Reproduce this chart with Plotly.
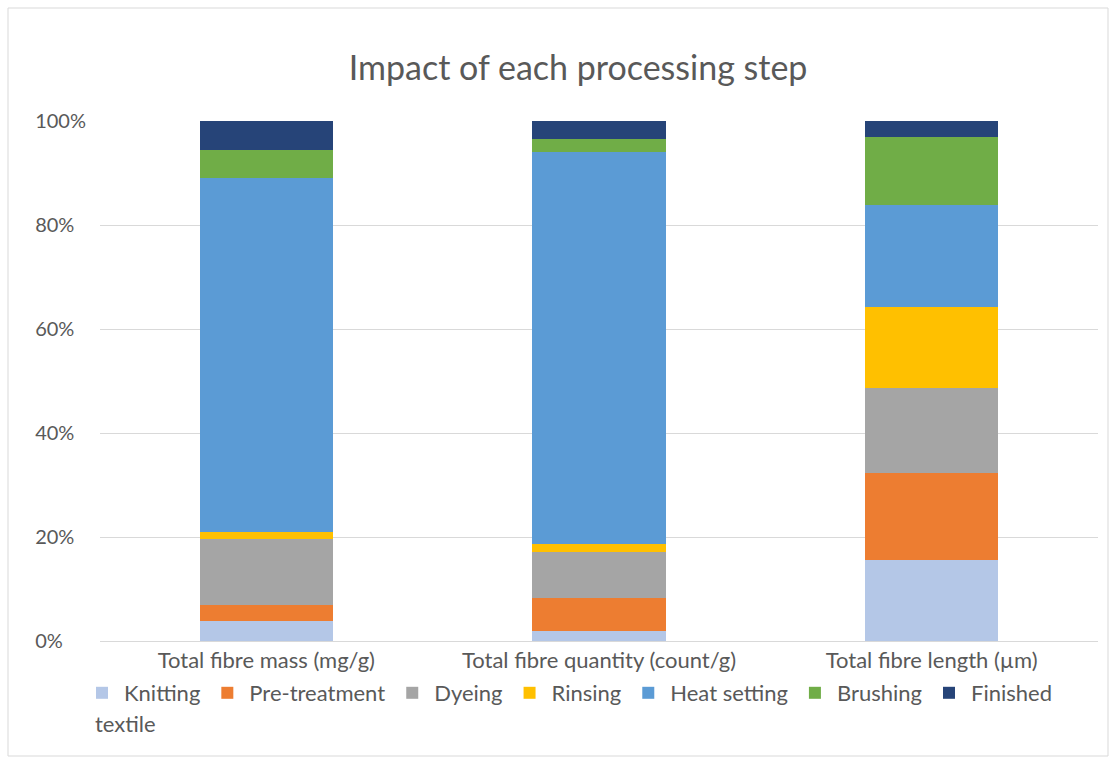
import plotly.graph_objects as go

categories = ["Total fibre mass (mg/g)", "Total fibre quantity (count/g)", "Total fibre length (µm)"]
steps = ["Knitting", "Pre-treatment", "Dyeing", "Rinsing", "Heat setting", "Brushing", "Finished"]
knitting = [3.8, 1.9, 15.6]
pre_treatment = [3.1, 6.4, 16.7]
dyeing = [12.7, 8.8, 16.4]
rinsing = [1.4, 1.6, 15.5]
heat_setting = [68.0, 75.3, 19.6]
brushing = [5.4, 2.5, 13.1]
finished = [5.6, 3.5, 3.1]
colors = ["#b4c7e7", "#ed7d31", "#a5a5a5", "#ffc000", "#5b9bd5", "#70ad47", "#264478"]
tick_vals = [0, 0.2, 0.4, 0.6, 0.8, 1.0]
tick_text = ["0%\u2007\u2007", "20%\u2007", "40%\u2007", "60%\u2007", "80%\u2007", "100%"]

series = [knitting, pre_treatment, dyeing, rinsing, heat_setting, brushing, finished]

W, H = 1116, 758
L, R, T, B = 100, 18, 121, 117

fig = go.Figure()
for name, vals, col in zip(steps, series, colors):
    fig.add_trace(go.Bar(x=categories, y=[v / 100 for v in vals], name=name,
                         marker=dict(color=col, line=dict(width=0))))

pw = W - L - R
ph = H - T - B
def px_x(p):
    return (p - L) / pw
def px_y(p):
    return (H - B - p) / ph

fig.update_layout(
    width=W, height=H,
    barmode="stack", bargap=0.6,
    margin=dict(l=L, r=R, t=T, b=B),
    paper_bgcolor="white", plot_bgcolor="white",
    font=dict(family="Lato", size=20, color="#595959"),
    title=dict(text="Impact of each processing step", x=0.518, xanchor="center",
               y=(H - 68) / H, yanchor="middle",
               font=dict(size=34, color="#595959")),
    showlegend=True,
    legend=dict(orientation="h", x=px_x(80), xanchor="left", y=px_y(693), yanchor="middle",
                font=dict(size=22, color="#595959"), traceorder="normal",
                itemwidth=34, tracegroupgap=0),
    yaxis=dict(range=[0, 1], tickvals=tick_vals, ticktext=tick_text, gridcolor="#d9d9d9",
               gridwidth=1, zeroline=False, showline=False, ticklabelstandoff=13,
               tickfont=dict(size=20, color="#595959")),
    xaxis=dict(showline=True, linecolor="#d9d9d9", linewidth=1, ticks="",
               tickfont=dict(size=22, color="#595959")),
)
fig.add_annotation(text="textile", xref="paper", yref="paper", x=px_x(93), y=px_y(724),
                   xanchor="left", yanchor="middle", showarrow=False,
                   font=dict(size=22, color="#595959"))
fig.add_shape(type="rect", xref="paper", yref="paper",
              x0=px_x(8), x1=px_x(1108), y0=px_y(756), y1=px_y(8),
              line=dict(color="#d9d9d9", width=1), layer="below")

fig.write_html("out.html")
